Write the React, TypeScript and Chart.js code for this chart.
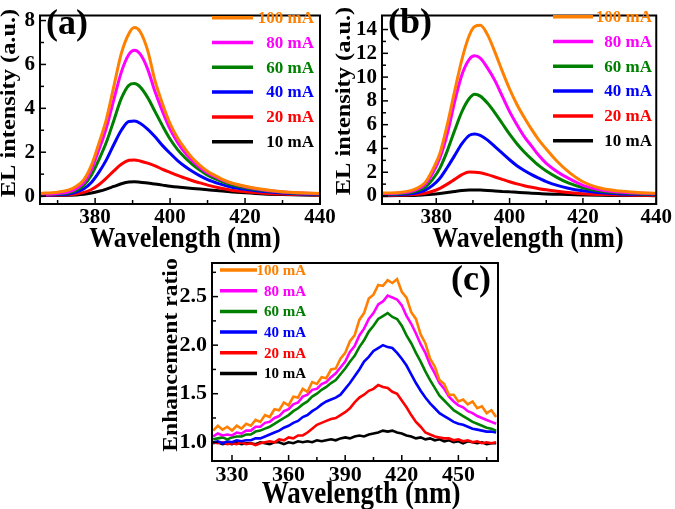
import React, { useEffect, useRef } from 'react';
import { Chart, registerables } from 'chart.js';
Chart.register(...registerables);

// ---------- data ----------
const SERIES_LABELS = ['100 mA', '80 mA', '60 mA', '40 mA', '20 mA', '10 mA'];
const COLORS = ['#ff8000', '#ff00ff', '#008000', '#0000ff', '#ff0000', '#000000'];

const WL_AB = [365, 370, 373, 375, 377, 379, 381, 383, 385, 387, 389, 390.5, 392, 394, 396, 398, 400, 402, 404, 406, 408, 410, 413, 416, 420, 425, 430, 435, 440];

const A_100 = [0.12, 0.18, 0.28, 0.45, 0.75, 1.4, 2.4, 3.5, 5.0, 6.5, 7.4, 7.68, 7.5, 6.65, 5.25, 4.2, 3.3, 2.65, 2.15, 1.72, 1.4, 1.13, 0.85, 0.62, 0.45, 0.3, 0.2, 0.15, 0.12];
const A_80 = [0.08, 0.12, 0.2, 0.35, 0.62, 1.2, 2.1, 3.1, 4.4, 5.65, 6.45, 6.65, 6.48, 5.8, 4.75, 3.85, 3.05, 2.45, 1.97, 1.6, 1.3, 1.05, 0.8, 0.6, 0.43, 0.28, 0.19, 0.14, 0.11];
const A_60 = [0.06, 0.09, 0.15, 0.27, 0.5, 0.95, 1.65, 2.45, 3.45, 4.45, 5.05, 5.13, 4.98, 4.5, 3.85, 3.2, 2.6, 2.12, 1.75, 1.44, 1.18, 0.95, 0.72, 0.54, 0.38, 0.25, 0.17, 0.12, 0.1];
const A_40 = [0.04, 0.06, 0.1, 0.18, 0.33, 0.62, 1.08, 1.65, 2.35, 3.0, 3.4, 3.42, 3.32, 3.05, 2.7, 2.3, 1.95, 1.62, 1.35, 1.12, 0.92, 0.75, 0.57, 0.43, 0.31, 0.21, 0.14, 0.1, 0.08];
const A_20 = [0.03, 0.04, 0.06, 0.1, 0.17, 0.3, 0.52, 0.82, 1.15, 1.45, 1.63, 1.65, 1.6, 1.5, 1.38, 1.22, 1.08, 0.94, 0.82, 0.7, 0.6, 0.5, 0.38, 0.28, 0.2, 0.13, 0.09, 0.07, 0.05];
const A_10 = [0.02, 0.03, 0.04, 0.05, 0.08, 0.14, 0.22, 0.32, 0.44, 0.56, 0.64, 0.65, 0.63, 0.6, 0.55, 0.5, 0.45, 0.41, 0.38, 0.35, 0.32, 0.29, 0.24, 0.2, 0.15, 0.1, 0.07, 0.05, 0.04];

const B_100 = [0.25, 0.3, 0.45, 0.7, 1.15, 2.2, 3.6, 6.0, 8.8, 11.5, 13.5, 14.25, 14.35, 13.55, 12.1, 10.5, 9.0, 7.7, 6.6, 5.6, 4.7, 3.95, 2.9, 2.05, 1.2, 0.65, 0.42, 0.3, 0.22];
const B_80 = [0.2, 0.25, 0.38, 0.6, 1.0, 1.9, 3.2, 5.2, 7.9, 10.2, 11.5, 11.8, 11.6, 10.75, 9.7, 8.4, 7.1, 6.0, 5.0, 4.2, 3.4, 2.75, 2.05, 1.5, 0.9, 0.5, 0.33, 0.25, 0.2];
const B_60 = [0.15, 0.2, 0.3, 0.45, 0.75, 1.4, 2.35, 3.8, 5.5, 7.1, 8.2, 8.55, 8.4, 7.8, 7.0, 6.1, 5.2, 4.4, 3.7, 3.1, 2.55, 2.1, 1.55, 1.1, 0.7, 0.4, 0.27, 0.2, 0.17];
const B_40 = [0.1, 0.13, 0.2, 0.3, 0.5, 0.9, 1.5, 2.4, 3.4, 4.4, 5.1, 5.22, 5.1, 4.7, 4.15, 3.6, 3.05, 2.55, 2.15, 1.8, 1.5, 1.22, 0.9, 0.66, 0.44, 0.27, 0.18, 0.14, 0.12];
const B_20 = [0.06, 0.08, 0.11, 0.15, 0.24, 0.4, 0.65, 1.0, 1.4, 1.8, 2.02, 2.0, 1.95, 1.8, 1.6, 1.4, 1.2, 1.02, 0.87, 0.74, 0.62, 0.52, 0.4, 0.3, 0.2, 0.13, 0.09, 0.07, 0.06];
const B_10 = [0.03, 0.04, 0.05, 0.07, 0.1, 0.15, 0.22, 0.3, 0.39, 0.47, 0.51, 0.51, 0.5, 0.47, 0.43, 0.39, 0.35, 0.31, 0.27, 0.24, 0.21, 0.18, 0.15, 0.12, 0.09, 0.06, 0.05, 0.04, 0.03];

const WL_C = [
  320, 322.5, 325, 327.5, 330, 332.5, 335, 337.5, 340, 342.5,
  345, 347.5, 350, 352.5, 355, 357.5, 360, 362.5, 365, 367.5,
  370, 372.5, 375, 377.5, 380, 382.5, 385, 387.5, 390, 392.5,
  395, 397.5, 400, 402.5, 405, 407.5, 410, 412.5, 415, 417.5,
  420, 422.5, 425, 427.5, 430, 432.5, 435, 437.5, 440, 442.5,
  445, 447.5, 450, 452.5, 455, 457.5, 460, 462.5, 465, 467.5,
  470,
];
const C_100 = [
  1.12, 1.17, 1.13, 1.16, 1.12, 1.17, 1.14, 1.19, 1.17, 1.23,
  1.21, 1.28, 1.26, 1.34, 1.33, 1.41, 1.38, 1.47, 1.46, 1.55,
  1.52, 1.62, 1.6, 1.67, 1.66, 1.75, 1.76, 1.86, 1.92, 2.04,
  2.1, 2.26, 2.33, 2.48, 2.52, 2.62, 2.61, 2.67, 2.64, 2.68,
  2.55, 2.49, 2.34, 2.27, 2.11, 2.02, 1.86, 1.78, 1.64, 1.6,
  1.49, 1.49, 1.42, 1.44, 1.39, 1.42, 1.35, 1.37, 1.3, 1.33,
  1.26,
];
const C_80 = [
  1.06, 1.09, 1.07, 1.08, 1.07, 1.1, 1.09, 1.12, 1.12, 1.16,
  1.16, 1.2, 1.21, 1.25, 1.27, 1.32, 1.34, 1.39, 1.41, 1.47,
  1.49, 1.54, 1.55, 1.6, 1.62, 1.67, 1.71, 1.77, 1.83, 1.93,
  1.99, 2.1, 2.17, 2.27, 2.33, 2.42, 2.45, 2.51, 2.49, 2.47,
  2.41, 2.3, 2.22, 2.12, 2.01, 1.92, 1.8, 1.71, 1.61, 1.55,
  1.47, 1.42, 1.38, 1.36, 1.32, 1.3, 1.27, 1.25, 1.23, 1.21,
  1.19,
];
const C_60 = [
  1.03, 1.04, 1.05, 1.03, 1.05, 1.06, 1.06, 1.08, 1.08, 1.11,
  1.12, 1.14, 1.16, 1.19, 1.22, 1.25, 1.28, 1.32, 1.35, 1.39,
  1.42, 1.47, 1.5, 1.54, 1.57, 1.61, 1.64, 1.7, 1.76, 1.83,
  1.89, 1.98, 2.05, 2.14, 2.2, 2.27, 2.3, 2.33, 2.29, 2.27,
  2.2, 2.1, 2.02, 1.92, 1.83, 1.73, 1.64, 1.56, 1.48, 1.43,
  1.38, 1.33, 1.3, 1.27, 1.24, 1.21, 1.19, 1.17, 1.15, 1.14,
  1.12,
];
const C_40 = [
  1.0, 1.01, 0.99, 1.01, 1.0, 1.02, 1.01, 1.02, 1.02, 1.04,
  1.04, 1.06, 1.08, 1.1, 1.12, 1.15, 1.17, 1.2, 1.22, 1.26,
  1.28, 1.32, 1.35, 1.39, 1.42, 1.44, 1.46, 1.49, 1.55, 1.61,
  1.68, 1.75, 1.83, 1.88, 1.94, 1.97, 2.0, 1.98, 1.97, 1.92,
  1.86, 1.79, 1.7, 1.61, 1.53, 1.46, 1.4, 1.35, 1.3, 1.27,
  1.24, 1.21, 1.19, 1.18, 1.16, 1.14, 1.13, 1.12, 1.11, 1.11,
  1.1,
];
const C_20 = [
  1.0, 0.99, 1.0, 0.98, 0.99, 0.98, 1.0, 0.98, 0.99, 0.97,
  0.99, 1.0, 1.01, 1.0, 1.03, 1.02, 1.05, 1.04, 1.07, 1.07,
  1.1, 1.14, 1.18, 1.2, 1.22, 1.24, 1.25, 1.28, 1.31, 1.35,
  1.41, 1.46, 1.49, 1.53, 1.55, 1.59, 1.57, 1.56, 1.52, 1.5,
  1.43, 1.36, 1.28, 1.21, 1.16, 1.1, 1.08, 1.06, 1.05, 1.04,
  1.04, 1.02, 1.03, 1.01, 1.02, 1.0, 1.01, 0.99, 1.0, 0.99,
  1.0,
];
const C_10 = [
  0.99, 1.0, 0.98, 0.99, 0.98, 1.0, 0.98, 0.99, 0.99, 0.98,
  1.0, 0.99, 0.98, 1.0, 1.0, 0.98, 1.0, 0.99, 1.01, 1.0,
  1.01, 1.0, 1.02, 1.01, 1.02, 1.03, 1.02, 1.04, 1.05, 1.04,
  1.06, 1.07, 1.06, 1.08, 1.09, 1.1, 1.12, 1.11, 1.12, 1.1,
  1.09, 1.07, 1.06, 1.04, 1.05, 1.03, 1.04, 1.02, 1.03, 1.01,
  1.02, 1.0, 1.01, 0.99, 1.01, 1.0, 0.99, 1.0, 0.98, 0.99,
  0.99,
];

const X_TICKS_AB = [380, 400, 420, 440];
const X_MINOR_AB = [370, 390, 410, 430];
const Y_TICKS_A = [0, 2, 4, 6, 8];
const Y_MINOR_A = [1, 3, 5, 7];
const Y_TICKS_B = [0, 2, 4, 6, 8, 10, 12, 14];
const Y_MINOR_B = [1, 3, 5, 7, 9, 11, 13];
const X_TICKS_C = [330, 360, 390, 420, 450];
const X_MINOR_C = [345, 375, 405, 435, 465];
const Y_TICKS_C = [1.0, 1.5, 2.0, 2.5];
const Y_MINOR_C = [1.25, 1.75, 2.25, 2.75];

const X_TITLE = 'Wavelength (nm)';
const Y_TITLE_AB = 'EL intensity (a.u.)';
const Y_TITLE_C = 'Enhancement ratio';

// ---------- styling ----------
const W = 675;
const H = 509;
const FAMILY = '"Liberation Serif", "Times New Roman", serif';

type Panel = {
  label: string;
  xs: number[];
  series: number[][];
  area: { left: number; top: number; right: number; bottom: number };
  xRange: [number, number];
  yRange: [number, number];
  xTicks: number[];
  xMinor: number[];
  yTicks: number[];
  yMinor: number[];
  yDecimals: number;
  tickFont: number;
  lineWidth: number;
  smooth: boolean;
  legend: { x1: number; x2: number; right: number; y0: number; dy: number; font: number; lw: number };
  tag: { x: number; y: number; font: number };
  xTitle: { x: number; y: number; font: number; sy: number };
  yTitle: { text: string; x: number; y: number; font: number; sy: number };
};

const PANELS: Panel[] = [
  {
    label: '(a)', xs: WL_AB, series: [A_100, A_80, A_60, A_40, A_20, A_10],
    area: { left: 40, top: 4, right: 320, bottom: 204 },
    xRange: [365.3, 440], yRange: [-0.36, 8.23],
    xTicks: X_TICKS_AB, xMinor: X_MINOR_AB, yTicks: Y_TICKS_A, yMinor: Y_MINOR_A, yDecimals: 0,
    tickFont: 21, lineWidth: 3, smooth: true,
    legend: { x1: 212, x2: 253, right: 314, y0: 17.7, dy: 24.8, font: 17, lw: 3.5 },
    tag: { x: 46, y: 25, font: 36 },
    xTitle: { x: 185, y: 246.5, font: 26, sy: 1.15 },
    yTitle: { text: Y_TITLE_AB, x: 10, y: 103, font: 20, sy: 1.22 },
  },
  {
    label: '(b)', xs: WL_AB, series: [B_100, B_80, B_60, B_40, B_20, B_10],
    area: { left: 382, top: 3.5, right: 658, bottom: 204 },
    xRange: [365.2, 440], yRange: [-0.67, 15.18],
    xTicks: X_TICKS_AB, xMinor: X_MINOR_AB, yTicks: Y_TICKS_B, yMinor: Y_MINOR_B, yDecimals: 0,
    tickFont: 21, lineWidth: 3, smooth: true,
    legend: { x1: 553, x2: 593, right: 652, y0: 16.7, dy: 24.8, font: 17, lw: 3.5 },
    tag: { x: 388, y: 24, font: 36 },
    xTitle: { x: 528, y: 246.5, font: 26, sy: 1.15 },
    yTitle: { text: Y_TITLE_AB, x: 345, y: 101, font: 20, sy: 1.22 },
  },
  {
    label: '(c)', xs: WL_C, series: [C_100, C_80, C_60, C_40, C_20, C_10],
    area: { left: 212, top: 263, right: 498, bottom: 461 },
    xRange: [319.4, 471], yRange: [0.807, 2.846],
    xTicks: X_TICKS_C, xMinor: X_MINOR_C, yTicks: Y_TICKS_C, yMinor: Y_MINOR_C, yDecimals: 1,
    tickFont: 22, lineWidth: 2.6, smooth: false,
    legend: { x1: 220, x2: 257, right: 306, y0: 270, dy: 20.7, font: 15, lw: 3.5 },
    tag: { x: 451, y: 281, font: 36 },
    xTitle: { x: 361, y: 503, font: 27, sy: 1.16 },
    yTitle: { text: Y_TITLE_C, x: 172, y: 355, font: 20, sy: 1.18 },
  },
];

const X_AXIS_H = 40;
const Y_AXIS_W = 40;

function decorPlugin(p: Panel) {
  return {
    id: 'decor' + p.label,
    afterDraw(chart: any) {
      const ctx: CanvasRenderingContext2D = chart.ctx;
      const a = chart.chartArea;
      const xs = chart.scales.x;
      const ys = chart.scales.y;
      ctx.save();
      // frame
      ctx.strokeStyle = '#000';
      ctx.lineWidth = 2;
      ctx.strokeRect(a.left, a.top, a.right - a.left, a.bottom - a.top);
      // inward ticks
      ctx.lineWidth = 1.5;
      const tickX = (v: number, len: number) => {
        const px = xs.getPixelForValue(v);
        ctx.beginPath();
        ctx.moveTo(px, a.bottom);
        ctx.lineTo(px, a.bottom - len);
        ctx.stroke();
      };
      const tickY = (v: number, len: number) => {
        const py = ys.getPixelForValue(v);
        ctx.beginPath();
        ctx.moveTo(a.left, py);
        ctx.lineTo(a.left + len, py);
        ctx.stroke();
      };
      p.xTicks.forEach((v) => tickX(v, 6));
      p.xMinor.forEach((v) => tickX(v, 4));
      p.yTicks.forEach((v) => tickY(v, 6));
      p.yMinor.forEach((v) => tickY(v, 4));
      // legend
      const L = p.legend;
      ctx.font = `bold ${L.font}px ${FAMILY}`;
      ctx.textAlign = 'right';
      ctx.textBaseline = 'middle';
      SERIES_LABELS.forEach((lab, i) => {
        const y = L.y0 + i * L.dy;
        ctx.strokeStyle = COLORS[i];
        ctx.lineWidth = L.lw;
        ctx.beginPath();
        ctx.moveTo(L.x1, y);
        ctx.lineTo(L.x2, y);
        ctx.stroke();
        ctx.fillStyle = COLORS[i];
        ctx.fillText(lab, L.right, y + 1);
      });
      // panel tag
      ctx.fillStyle = '#000';
      ctx.font = `bold ${p.tag.font}px ${FAMILY}`;
      ctx.textAlign = 'left';
      ctx.textBaseline = 'middle';
      ctx.fillText(p.label, p.tag.x, p.tag.y);
      // x title
      ctx.save();
      ctx.translate(p.xTitle.x, p.xTitle.y);
      ctx.scale(1, p.xTitle.sy);
      ctx.font = `bold ${p.xTitle.font}px ${FAMILY}`;
      ctx.textAlign = 'center';
      ctx.textBaseline = 'alphabetic';
      ctx.fillText(X_TITLE, 0, 0);
      ctx.restore();
      // y title
      ctx.save();
      ctx.translate(p.yTitle.x, p.yTitle.y);
      ctx.scale(1, p.yTitle.sy);
      ctx.rotate(-Math.PI / 2);
      ctx.font = `bold ${p.yTitle.font}px ${FAMILY}`;
      ctx.textAlign = 'center';
      ctx.textBaseline = 'middle';
      ctx.fillText(p.yTitle.text, 0, 0);
      ctx.restore();
      ctx.restore();
    },
  };
}

function buildChart(canvas: HTMLCanvasElement, p: Panel) {
  const tickFont = { family: FAMILY, weight: 'bold' as const, size: p.tickFont, lineHeight: 1 };
  return new Chart(canvas, {
    type: 'line',
    data: {
      datasets: p.series.map((vals, i) => ({
        label: SERIES_LABELS[i],
        data: p.xs.map((x, j) => ({ x, y: vals[j] })),
        borderColor: COLORS[i],
        backgroundColor: COLORS[i],
        borderWidth: p.lineWidth,
        pointRadius: 0,
        fill: false,
        tension: 0,
        cubicInterpolationMode: p.smooth ? ('monotone' as const) : ('default' as const),
      })),
    },
    options: {
      responsive: false,
      animation: false,
      events: [],
      layout: {
        padding: {
          left: p.area.left - Y_AXIS_W,
          top: p.area.top,
          right: W - p.area.right,
          bottom: H - p.area.bottom - X_AXIS_H,
        },
      },
      plugins: { legend: { display: false }, tooltip: { enabled: false } },
      scales: {
        x: {
          type: 'linear',
          min: p.xRange[0],
          max: p.xRange[1],
          afterBuildTicks: (s: any) => { s.ticks = p.xTicks.map((v) => ({ value: v })); },
          afterFit: (s: any) => { s.height = X_AXIS_H; },
          grid: { display: false, drawTicks: false },
          border: { display: false },
          ticks: { autoSkip: false, maxRotation: 0, minRotation: 0, padding: 3, color: '#000', font: tickFont },
        },
        y: {
          type: 'linear',
          min: p.yRange[0],
          max: p.yRange[1],
          afterBuildTicks: (s: any) => { s.ticks = p.yTicks.map((v) => ({ value: v })); },
          afterFit: (s: any) => { s.width = Y_AXIS_W; },
          grid: { display: false, drawTicks: false },
          border: { display: false },
          ticks: {
            autoSkip: false,
            padding: 5,
            color: '#000',
            font: tickFont,
            callback: (v: any) => Number(v).toFixed(p.yDecimals),
          },
        },
      },
    },
    plugins: [decorPlugin(p)],
  } as any);
}

export default function App() {
  const refs = [useRef<HTMLCanvasElement>(null), useRef<HTMLCanvasElement>(null), useRef<HTMLCanvasElement>(null)];
  useEffect(() => {
    const charts = PANELS.map((p, i) => buildChart(refs[i].current as HTMLCanvasElement, p));
    return () => charts.forEach((c) => c.destroy());
  }, []);
  return (
    <div style={{ position: 'absolute', left: 0, top: 0, width: W, height: H, background: '#fff', overflow: 'hidden' }}>
      {PANELS.map((p, i) => (
        <canvas
          key={p.label}
          ref={refs[i]}
          width={W}
          height={H}
          style={{ position: 'absolute', left: 0, top: 0, width: W, height: H }}
        />
      ))}
    </div>
  );
}
